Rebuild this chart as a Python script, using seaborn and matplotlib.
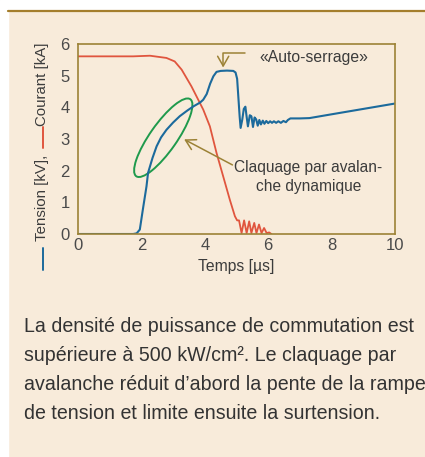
import matplotlib
matplotlib.use("Agg")
import matplotlib.pyplot as plt
from matplotlib.patches import Ellipse, Rectangle
from matplotlib.lines import Line2D
import pandas as pd
import seaborn as sns

# Tension (kV) trace
t_tension = [0, 1.5, 1.74, 1.85, 1.95, 2.05, 2.16, 2.21, 2.35, 2.48, 2.62, 2.79, 3.0,
             3.21, 3.45, 3.64, 3.85, 3.95, 4.06, 4.17, 4.27, 4.37, 4.5, 4.7, 4.9,
             4.97, 5.02, 5.06, 5.1, 5.13, 5.18, 5.23, 5.28, 5.32, 5.36, 5.42, 5.47,
             5.52, 5.57, 5.62, 5.67, 5.72, 5.77, 5.83, 5.88, 5.94, 6.0, 6.06, 6.12,
             6.18, 6.25, 6.32, 6.4, 6.48, 6.56, 6.62, 6.7, 7.0, 7.3, 8.0, 9.0, 10.0]
tension = [0, 0, 0, 0.02, 0.14, 0.8, 1.5, 1.93, 2.4, 2.77, 3.05, 3.29, 3.52,
           3.72, 3.9, 4.03, 4.15, 4.24, 4.42, 4.75, 4.98, 5.12, 5.15, 5.16, 5.15,
           5.1, 4.9, 4.3, 3.7, 3.35, 3.6, 3.95, 4.02, 3.7, 3.4, 3.75, 3.72,
           3.38, 3.68, 3.62, 3.42, 3.6, 3.46, 3.58, 3.48, 3.57, 3.5, 3.56, 3.51,
           3.56, 3.51, 3.56, 3.51, 3.57, 3.53, 3.6, 3.65, 3.65, 3.66, 3.78, 3.95, 4.12]

# Courant (kA) trace
t_courant = [0, 1.74, 2.27, 2.79, 3.05, 3.27, 3.58, 3.95, 4.16, 4.37, 4.58, 4.79,
             4.95, 5.02, 5.08, 5.16, 5.24, 5.32, 5.4, 5.47, 5.56, 5.63, 5.71, 5.79,
             5.87, 5.95, 6.03, 6.1]
courant = [5.61, 5.61, 5.63, 5.56, 5.45, 5.19, 4.66, 3.93, 3.4, 2.56, 1.82, 1.08,
           0.56, 0.43, 0.43, 0.03, 0.43, 0.03, 0.4, 0.03, 0.35, 0.03, 0.3, 0.03,
           0.19, 0.03, 0.05, 0.0]

x_ticks = [0, 2, 4, 6, 8, 10]
y_ticks = [0, 1, 2, 3, 4, 5, 6]

caption = ["La densité de puissance de commutation est",
           "supérieure à 500 kW/cm². Le claquage par",
           "avalanche réduit d’abord la pente de la rampe",
           "de tension et limite ensuite la surtension."]

BG = "#f8ebda"
GOLD = "#9c8236"
BLUE = "#1c6a9c"
RED = "#e0553e"
GREEN = "#1f9a4c"
TXT = "#3c3c3c"

W, H = 425, 457

sns.set_style("white")
plt.rcParams["font.family"] = ["Liberation Sans", "DejaVu Sans"]

fig = plt.figure(figsize=(W / 100, H / 100), dpi=100, facecolor=BG)

def fx(px):
    return px / W

def fy(py):
    return 1 - py / H

# white margins and gold rule at the top
fig.patches.append(Rectangle((0, 0), fx(8), 1, transform=fig.transFigure, color="white", zorder=0))
fig.patches.append(Rectangle((0, fy(10)), 1, 1 - fy(10), transform=fig.transFigure, color="white", zorder=0))
fig.add_artist(Line2D([fx(8), 1], [fy(10.5), fy(10.5)], transform=fig.transFigure, color="#a47e2c", lw=1.6))

ax = fig.add_axes([fx(78), fy(234), fx(395) - fx(78), fy(44) - fy(234)])
ax.set_facecolor(BG)

df_t = pd.DataFrame({"t": t_tension, "v": tension})
df_c = pd.DataFrame({"t": t_courant, "v": courant})
sns.lineplot(data=df_c, x="t", y="v", ax=ax, color=RED, lw=1.3)
sns.lineplot(data=df_t, x="t", y="v", ax=ax, color=BLUE, lw=1.5)

ax.set_xlim(0, 10)
ax.set_ylim(0, 6)
ax.set_xticks(x_ticks)
ax.set_yticks(y_ticks)
ax.tick_params(direction="in", length=8, width=1.1, color=GOLD, labelcolor="#4a4a4a",
               labelsize=12, pad=3)
ax.tick_params(axis="y", pad=6)
for s in ax.spines.values():
    s.set_color(GOLD)
    s.set_linewidth(1.2)
ax.set_xlabel("Temps [µs]", fontsize=11.3, color=TXT, labelpad=4)
ax.set_ylabel("")

# ellipse around the avalanche zone
ax.add_patch(Ellipse((2.69, 3.04), 2.97, 0.85, angle=55, fill=False, ec=GREEN, lw=1.4))

ax.annotate("", xy=(4.58, 5.17), xytext=(5.37, 5.72),
            arrowprops=dict(arrowstyle="->,head_length=0.7,head_width=0.4", color=GOLD, lw=1.1,
                            connectionstyle="angle,angleA=0,angleB=90,rad=0"))
ax.text(5.72, 5.58, "«Auto-serrage»", fontsize=11.3, color=TXT, va="center", ha="left")

ax.annotate("", xy=(3.27, 3.03), xytext=(4.95, 2.14),
            arrowprops=dict(arrowstyle="->,head_length=0.7,head_width=0.4", color=GOLD, lw=1.1))
ax.text(7.27, 1.8, "Claquage par avalan-\nche dynamique", fontsize=11.2, color=TXT,
        va="center", ha="center", multialignment="center", linespacing=1.3)

# y label with coloured line keys
fig.text(fx(42), fy(198), "Tension [kV],", rotation=90, ha="center", va="center", fontsize=10.8, color=TXT)
fig.text(fx(42), fy(84), "Courant [kA]", rotation=90, ha="center", va="center", fontsize=10.8, color=TXT)
fig.add_artist(Line2D([fx(43), fx(43)], [fy(248), fy(270)], transform=fig.transFigure, color=BLUE, lw=1.4))
fig.add_artist(Line2D([fx(43), fx(43)], [fy(127), fy(148)], transform=fig.transFigure, color=RED, lw=1.4))

for i, line in enumerate(caption):
    fig.text(fx(24), fy(327 + i * 28.7), line, ha="left", va="center", fontsize=14.1, color="#333333")

fig.savefig("out.png", dpi=100, facecolor=BG)
